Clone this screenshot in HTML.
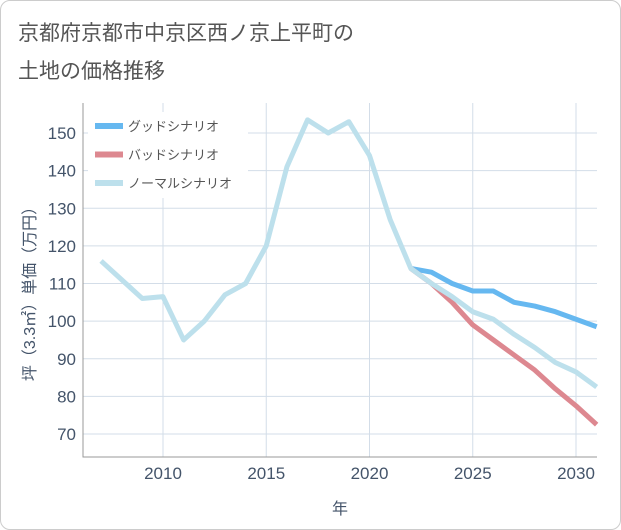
<!DOCTYPE html>
<html><head><meta charset="utf-8"><style>
body{margin:0;background:#fff;}
#card{position:absolute;left:0;top:0;width:619px;height:528px;border:1px solid #ccc;border-radius:10px;background:#fff;}
text{font-family:"Liberation Sans","Noto Sans CJK JP",sans-serif;}
</style></head><body>
<div id="card"></div>
<svg id="chart" width="621" height="530" style="position:absolute;left:0;top:0">
<text x="18" y="40" font-size="21" fill="#555">京都府京都市中京区西ノ京上平町の</text>
<text x="18" y="78" font-size="21" fill="#555">土地の価格推移</text>
</svg>
<script>
const years=[2007,2008,2009,2010,2011,2012,2013,2014,2015,2016,2017,2018,2019,2020,2021,2022,2023,2024,2025,2026,2027,2028,2029,2030,2031];
const normal=[116,111,106,106.5,95,100,107,110,120,141,153.5,150,153,144,127,114,110,106.5,102.5,100.5,96.5,93,89,86.5,82.5];
const goodYears=[2022,2023,2024,2025,2026,2027,2028,2029,2030,2031];
const good=[114,113,110,108,108,105,104,102.5,100.5,98.5];
const bad=[114,110,105,99,95,91,87,82,77.5,72.5];
const xTicks=[2010,2015,2020,2025,2030];
const yTicks=[70,80,90,100,110,120,130,140,150];
const L=83,R=597,T=103,B=457;
const x=v=>163+(v-2010)*(576-163)/20;
const y=v=>434-(v-70)*(434-133)/80;
const svg=document.getElementById('chart');const NS='http://www.w3.org/2000/svg';
function mk(t,a,p){const e=document.createElementNS(NS,t);for(const k in a)e.setAttribute(k,a[k]);(p||svg).appendChild(e);return e;}
xTicks.forEach(v=>{const l=mk('line',{x1:x(v),x2:x(v),y1:T,y2:B,stroke:'#d3dde8'});


const t=mk('text',{x:x(v),y:479,'font-size':17,fill:'#44546a','text-anchor':'middle'});t.textContent=v;

});
yTicks.forEach(v=>{const l=mk('line',{x1:L,x2:R,y1:y(v),y2:y(v),stroke:'#d3dde8'});


const t=mk('text',{x:76,y:y(v)+6,'font-size':17,fill:'#44546a','text-anchor':'end'});t.textContent=v;

});
const ax=mk('path',{d:`M${L} ${T}V${B}H${R}`,fill:'none',stroke:'#999'});


function line(xs,ys,c,n){const p=mk('polyline',{points:xs.map((v,i)=>x(v)+','+y(ys[i])).join(' '),fill:'none',stroke:c,'stroke-width':5,'stroke-linejoin':'round'});

}
line(goodYears,good,'#66b8f0','good-scenario-line');
line(goodYears,bad,'#dd8890','bad-scenario-line');
line(years,normal,'#bde0ec','normal-scenario-line');
const leg=mk('rect',{x:88,y:112,width:160,height:86,fill:'#fff'});


[['グッドシナリオ','#66b8f0'],['バッドシナリオ','#dd8890'],['ノーマルシナリオ','#bde0ec']].forEach((d,i)=>{
const yy=126+i*28.5;
const r=mk('rect',{x:95,y:yy-3,width:28,height:6,fill:d[1]});


const t=mk('text',{x:128,y:yy+5,'font-size':13,fill:'#555'});t.textContent=d[0];

});
const xt=mk('text',{x:340,y:514,'font-size':16,fill:'#44546a','text-anchor':'middle'});xt.textContent='年';


const yt=mk('text',{x:0,y:0,'font-size':16,fill:'#44546a','text-anchor':'middle',transform:'translate(35,290) rotate(-90)'});yt.textContent='坪（3.3㎡）単価（万円）';


</script>
</body></html>
